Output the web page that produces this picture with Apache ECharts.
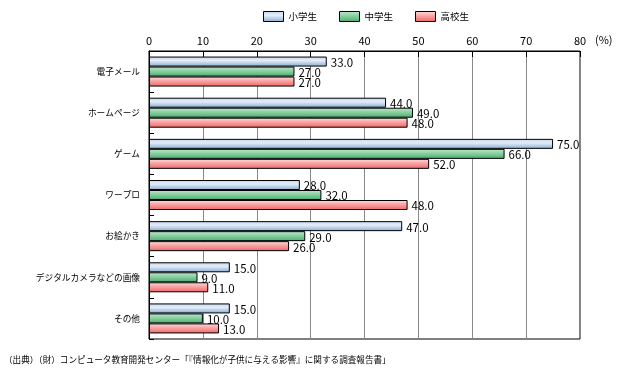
<!DOCTYPE html>
<html><head><meta charset="utf-8">
<script src="https://cdn.jsdelivr.net/npm/echarts@6/dist/echarts.min.js"></script>
<style>html,body{margin:0;padding:0;background:#fff}#c{width:625px;height:379px}</style>
</head><body><div id="c"></div>
<script>
const categories = ['電子メール','ホームページ','ゲーム','ワープロ','お絵かき','デジタルカメラなどの画像','その他'];
const elementary = [33.0, 44.0, 75.0, 28.0, 47.0, 15.0, 15.0];
const juniorHigh = [27.0, 49.0, 66.0, 32.0, 29.0, 9.0, 10.0];
const highSchool = [27.0, 48.0, 52.0, 48.0, 26.0, 11.0, 13.0];
const seriesNames = ['小学生','中学生','高校生'];
const xTicks = [0,10,20,30,40,50,60,70,80];
const sourceText = '（出典）（財）コンピュータ教育開発センター「『情報化が子供に与える影響』に関する調査報告書」';

const FONT = '"Noto Sans CJK JP", sans-serif';
const chart = echarts.init(document.getElementById('c'));
function grad(top, mid, bot){
  return new echarts.graphic.LinearGradient(0,0,0,1,[
    {offset:0,color:top},{offset:0.4,color:mid},{offset:1,color:bot}]);
}
const fills = [
  grad('#c3d7ec','#e4edf7','#86aad3'),
  grad('#bfe6cb','#8fd3a6','#4aab6c'),
  grad('#ffe0e0','#f9a8a8','#ee6666')
];
const data = [elementary, juniorHigh, highSchool];
const series = data.map((d,i)=>({
  name: seriesNames[i],
  type: 'bar',
  data: d,
  barWidth: 10,
  barGap: '0%',
  itemStyle: {color: fills[i], borderColor:'#000', borderWidth:1},
  label: {show:true, position:'right', distance:4, color:'#000', fontSize:11.5, fontFamily:FONT,
          offset:[0,1], formatter: p => p.value.toFixed(1)},
  emphasis:{disabled:true},
  animation:false
}));
chart.setOption({
  animation:false,
  textStyle:{fontFamily:FONT},
  legend:{
    top:6, left:258, itemWidth:20, itemHeight:10, itemGap:22,
    textStyle:{fontSize:9.5, color:'#000', fontFamily:FONT},
    data: seriesNames.map((n,i)=>({name:n, itemStyle:{color:fills[i], borderColor:'#000', borderWidth:1}})),
    icon:'rect'
  },
  grid:{left:149, right:45, top:51, bottom:40, show:true, borderColor:'#000', borderWidth:1, containLabel:false},
  xAxis:{
    type:'value', position:'top', min:0, max:80, interval:10,
    axisLine:{show:true, lineStyle:{color:'#000'}},
    axisTick:{show:true, inside:true, length:6, lineStyle:{color:'#000'}},
    axisLabel:{color:'#000', fontSize:11, margin:5, fontFamily:FONT,
      formatter: v => xTicks.includes(v) ? String(v) : ''},
    splitLine:{show:true, lineStyle:{color:'#888', width:1}}
  },
  yAxis:{
    type:'category', data:categories, inverse:true,
    axisLine:{show:true, lineStyle:{color:'#000'}},
    axisTick:{show:true, inside:true, length:5, lineStyle:{color:'#000'}},
    axisLabel:{color:'#000', fontSize:8.7, margin:9, fontFamily:FONT},
    splitLine:{show:false}
  },
  graphic:[
    {type:'text', left:595, top:34, style:{text:'(%)', font:'11px '+FONT, fill:'#000'}},
    {type:'text', left:4, top:355, style:{text:sourceText, font:'8.6px '+FONT, fill:'#000'}}
  ],
  series
});
</script></body></html>
